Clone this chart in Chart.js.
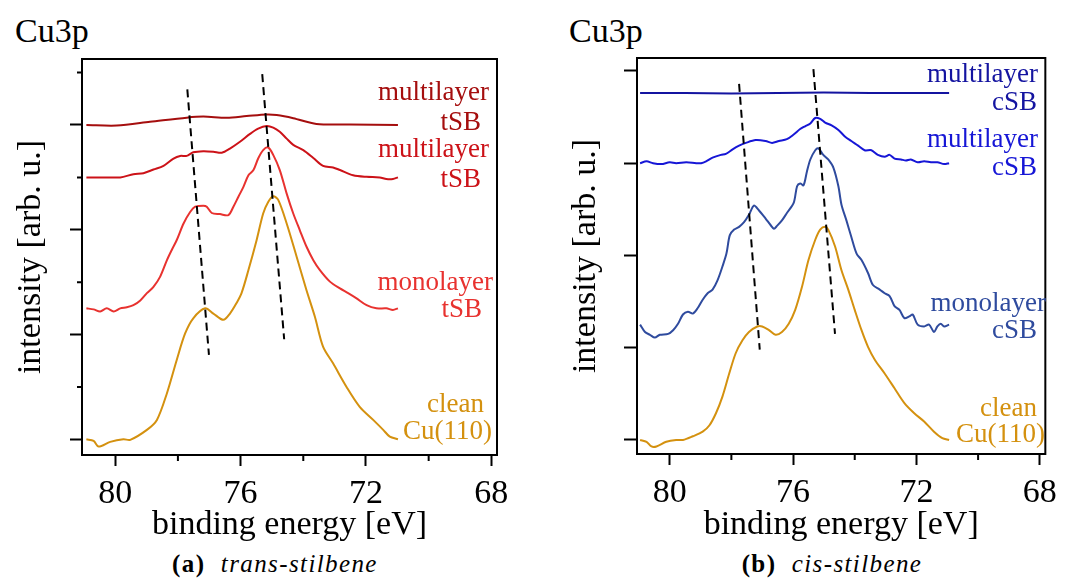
<!DOCTYPE html>
<html>
<head>
<meta charset="utf-8">
<script src="https://cdn.jsdelivr.net/npm/chart.js@4.4.1/dist/chart.umd.min.js"></script>
<style>
  body { margin: 0; background: #fff; width: 1065px; height: 584px; position: relative; overflow: hidden; }
  canvas { position: absolute; top: 0; }
  .head { position: absolute; top: 14px; font-size: 34px; line-height: 34px; color: #000; }
  .cap { position: absolute; top: 551px; width: 240px; text-align: center; font-size: 25px; line-height: 25px; letter-spacing: 1.4px; color: #000; }
  .head, .cap { font-family: "Liberation Serif", "Times New Roman", Tinos, "DejaVu Serif", serif; }
</style>
</head>
<body>
<div class="head" style="left:15px">Cu3p</div>
<div class="head" style="left:569px">Cu3p</div>
<canvas id="trans" width="530" height="545" style="left:0"></canvas>
<canvas id="cis" width="525" height="545" style="left:540px"></canvas>
<div class="cap" style="left:155px"><b>(a)</b>&nbsp; <i>trans-stilbene</i></div>
<div class="cap" style="left:712px"><b>(b)</b>&nbsp; <i>cis-stilbene</i></div>
<script>
// ---- trans-stilbene panel (binding energy in eV, intensity in arb. u.)
const cleanTE = [80.92,80.69,80.53,80.16,79.74,79.52,78.99,78.67,78.35,78.04,77.77,77.51,77.13,76.87,76.55,76.34,76.13,75.97,75.75,75.49,75.28,75.12,74.96,74.80,74.53,74.21,73.90,73.63,73.37,73.05,72.62,72.20,71.77,71.45,71.24,70.98];
const cleanTI = [0,-0.03,-0.14,-0.05,0,-0.01,0.18,0.37,0.88,1.51,2.02,2.31,2.50,2.40,2.28,2.40,2.60,2.79,3.23,3.80,4.31,4.53,4.64,4.57,4.12,3.48,2.85,2.34,1.77,1.45,1.00,0.62,0.37,0.18,0.05,0];
const monoTE = [80.92,80.69,80.48,80.27,80.05,79.84,79.63,79.42,79.20,78.99,78.78,78.57,78.35,78.20,78.04,77.82,77.61,77.45,77.19,77.08,76.92,76.66,76.39,76.23,76.07,75.91,75.75,75.59,75.44,75.28,75.12,74.96,74.75,74.53,74.32,74.11,73.90,73.68,73.47,73.15,72.83,72.57,72.30,71.98,71.67,71.35,71.14,70.98];
const monoTI = [2.50,2.48,2.44,2.50,2.44,2.50,2.52,2.56,2.65,2.79,2.91,3.10,3.42,3.61,3.80,4.12,4.34,4.44,4.46,4.44,4.32,4.30,4.28,4.44,4.63,4.82,5.04,5.14,5.36,5.52,5.57,5.43,5.14,4.69,4.31,3.99,3.68,3.42,3.23,3.01,2.88,2.79,2.69,2.56,2.50,2.50,2.47,2.50];
const multiTE = [80.92,80.48,79.84,79.42,79.10,78.78,78.46,78.14,77.93,77.72,77.51,77.19,76.87,76.60,76.34,76.02,75.70,75.44,75.17,74.96,74.75,74.53,74.32,74.00,73.68,73.37,73.05,72.83,72.41,71.98,71.56,71.35,71.14,70.98];
const multiTI = [5.00,5.00,5.00,5.06,5.08,5.15,5.22,5.36,5.41,5.41,5.48,5.50,5.49,5.47,5.55,5.68,5.83,5.93,5.98,5.95,5.87,5.74,5.62,5.52,5.37,5.22,5.19,5.14,5.04,5.01,5.00,4.97,4.97,5.00];
const multi2TE = [80.92,79.95,78.89,77.72,77.19,76.44,75.81,75.17,74.85,74.32,73.58,72.52,70.98];
const multi2TI = [6.00,5.99,6.06,6.14,6.16,6.14,6.17,6.20,6.19,6.13,6.02,6.01,6.00];
const guideT1E = [77.70,77.01], guideT1I = [6.68,1.61];
const guideT2E = [75.31,74.61], guideT2I = [6.97,1.91];

// ---- cis-stilbene panel
const cleanCE = [80.96,80.75,80.59,80.43,80.11,79.79,79.57,79.25,78.93,78.71,78.50,78.29,78.07,77.86,77.64,77.43,77.16,77.00,76.78,76.57,76.36,76.14,75.93,75.71,75.50,75.28,75.12,74.96,74.86,74.64,74.43,74.21,74.00,73.78,73.57,73.35,73.03,72.71,72.39,72.07,71.75,71.43,71.16,70.94];
const cleanCI = [0,-0.02,-0.07,-0.07,-0.02,0,0,0.04,0.09,0.16,0.29,0.47,0.72,0.94,1.08,1.17,1.23,1.23,1.19,1.14,1.17,1.26,1.41,1.66,1.95,2.17,2.28,2.31,2.28,2.10,1.84,1.63,1.41,1.19,1.01,0.87,0.72,0.56,0.40,0.29,0.20,0.09,0.02,0];
const monoCE = [80.96,80.80,80.64,80.48,80.32,80.05,79.89,79.73,79.57,79.41,79.25,79.09,78.93,78.77,78.61,78.45,78.29,78.16,78.05,77.91,77.75,77.59,77.43,77.27,77.11,76.89,76.73,76.62,76.52,76.36,76.20,75.98,75.87,75.77,75.66,75.55,75.44,75.28,75.18,75.02,74.86,74.69,74.53,74.43,74.27,74.11,73.94,73.78,73.57,73.41,73.19,73.03,72.87,72.71,72.55,72.39,72.23,72.12,71.96,71.75,71.59,71.43,71.32,71.21,71.10,70.94];
const monoCI = [1.25,1.17,1.14,1.11,1.14,1.15,1.19,1.26,1.36,1.39,1.37,1.43,1.52,1.59,1.63,1.73,1.88,2.02,2.22,2.28,2.31,2.36,2.44,2.54,2.49,2.40,2.33,2.29,2.32,2.38,2.46,2.57,2.75,2.78,2.76,2.91,3.04,3.14,3.16,3.09,3.04,2.95,2.75,2.55,2.38,2.20,2.02,1.95,1.81,1.68,1.63,1.59,1.56,1.45,1.41,1.32,1.34,1.36,1.25,1.23,1.25,1.17,1.23,1.26,1.23,1.25];
const multiCE = [80.96,80.75,80.54,80.27,80.00,79.79,79.46,79.14,78.98,78.82,78.61,78.34,78.18,77.96,77.75,77.53,77.21,76.89,76.68,76.46,76.20,75.98,75.77,75.61,75.44,75.28,75.12,74.96,74.75,74.53,74.32,74.11,73.89,73.68,73.46,73.25,73.03,72.87,72.71,72.50,72.34,72.18,71.96,71.75,71.53,71.32,71.10,70.94];
const multiCI = [3.00,3.02,3.00,2.99,3.01,3.00,3.01,3.00,3.00,3.02,3.06,3.09,3.10,3.15,3.19,3.22,3.25,3.24,3.22,3.24,3.26,3.31,3.37,3.40,3.43,3.49,3.48,3.44,3.41,3.36,3.29,3.24,3.19,3.14,3.14,3.09,3.07,3.09,3.05,3.04,3.03,3.04,3.01,3.02,3.01,3.01,2.99,3.00];
const multi2CE = [80.96,79.5,78,76.5,75,73.5,72,70.94];
const multi2CI = [3.76,3.76,3.755,3.76,3.765,3.76,3.76,3.76];
const guideC1E = [77.75,77.08], guideC1I = [3.86,0.98];
const guideC2E = [75.34,74.64], guideC2I = [4.02,1.15];

// axis ticks
const xMajor = [80, 76, 72, 68];
const xMinor = [78, 74, 70];
const yMajorT = [0, 2, 4, 6], yMinorT = [1, 3, 5, 7];
const yMajorC = [0, 1, 2, 3, 4];

const FONT = '"Liberation Serif", "Times New Roman", Tinos, "DejaVu Serif", serif';

const pts = (xs, ys) => xs.map((x, i) => ({ x: x, y: ys[i] }));

function curve(xs, ys, color) {
  return { data: pts(xs, ys), borderColor: color, borderWidth: 2, pointRadius: 0, tension: 0.3, fill: false };
}
function guide(xs, ys) {
  return { data: pts(xs, ys), borderColor: '#000', borderWidth: 2, borderDash: [8, 5], pointRadius: 0, fill: false };
}

// frame, minor ticks and curve names
const framePlugin = {
  id: 'frame',
  afterDraw(chart, args, opts) {
    const { ctx, chartArea: a, scales } = chart;
    ctx.save();
    ctx.strokeStyle = '#000';
    ctx.lineWidth = 2;
    ctx.strokeRect(a.left, a.top, a.right - a.left, a.bottom - a.top);
    ctx.beginPath();
    opts.xMinor.forEach(v => {
      const p = scales.x.getPixelForValue(v);
      ctx.moveTo(p, a.bottom); ctx.lineTo(p, a.bottom + 6);
    });
    opts.yMinor.forEach(v => {
      const p = scales.y.getPixelForValue(v);
      ctx.moveTo(a.left, p); ctx.lineTo(a.left - 5, p);
    });
    ctx.stroke();
    ctx.font = '27px ' + FONT;
    ctx.textAlign = 'right';
    ctx.textBaseline = 'alphabetic';
    opts.labels.forEach(l => {
      ctx.fillStyle = l.color;
      ctx.fillText(l.text, l.x, l.y);
    });
    ctx.restore();
  }
};

function options(cfg) {
  return {
    responsive: false,
    animation: false,
    devicePixelRatio: 1,
    layout: { padding: { top: cfg.top, right: cfg.right, left: 0, bottom: 0 } },
    plugins: {
      legend: { display: false },
      tooltip: { enabled: false },
      frame: { xMinor: xMinor, yMinor: cfg.yMinor, labels: cfg.labels }
    },
    scales: {
      x: {
        type: 'linear', reverse: true, min: 67.82, max: 81.06,
        afterBuildTicks: s => { s.ticks = xMajor.map(v => ({ value: v })); },
        afterFit: s => { s.height = cfg.xHeight; },
        border: { display: true, color: '#000', width: 2 },
        grid: { drawOnChartArea: false, drawTicks: true, tickLength: 11, tickWidth: 2, tickColor: '#000' },
        ticks: { color: '#000', font: { family: FONT, size: 34 }, padding: 8, maxRotation: 0 },
        title: { display: true, text: 'binding energy [eV]', color: '#000', font: { family: FONT, size: 34 }, padding: { top: 0, bottom: 0 } }
      },
      y: {
        type: 'linear', min: cfg.ymin, max: cfg.ymax,
        afterBuildTicks: s => { s.ticks = cfg.yMajor.map(v => ({ value: v })); },
        afterFit: s => { s.width = cfg.yWidth; },
        border: { display: true, color: '#000', width: 2 },
        grid: { drawOnChartArea: false, drawTicks: true, tickLength: cfg.yTick, tickWidth: 2, tickColor: '#000' },
        ticks: { display: false },
        title: { display: true, text: 'intensity [arb. u.]', color: '#000', font: { family: FONT, size: 34 }, padding: { top: cfg.titlePad, bottom: 0 } }
      }
    }
  };
}

new Chart(document.getElementById('trans'), {
  type: 'line',
  data: {
    datasets: [
      guide(guideT1E, guideT1I),
      guide(guideT2E, guideT2I),
      curve(multi2TE, multi2TI, '#A50E0E'),
      curve(multiTE, multiTI, '#CC1218'),
      curve(monoTE, monoTI, '#E8322F'),
      curve(cleanTE, cleanTI, '#D4910F')
    ]
  },
  options: options({
    top: 59, right: 33, xHeight: 90, yWidth: 82, titlePad: 11, yTick: 12,
    ymin: -0.30, ymax: 7.26, yMajor: yMajorT, yMinor: yMinorT,
    labels: [
      { text: 'multilayer', color: '#A50E0E', x: 489, y: 100 },
      { text: 'tSB', color: '#A50E0E', x: 481, y: 130 },
      { text: 'multilayer', color: '#CC1218', x: 489, y: 157 },
      { text: 'tSB', color: '#CC1218', x: 481, y: 187 },
      { text: 'monolayer', color: '#E8322F', x: 493, y: 290 },
      { text: 'tSB', color: '#E8322F', x: 482, y: 317 },
      { text: 'clean', color: '#D4910F', x: 484, y: 412 },
      { text: 'Cu(110)', color: '#D4910F', x: 492, y: 439 }
    ]
  }),
  plugins: [framePlugin]
});

new Chart(document.getElementById('cis'), {
  type: 'line',
  data: {
    datasets: [
      guide(guideC1E, guideC1I),
      guide(guideC2E, guideC2I),
      curve(multi2CE, multi2CI, '#1414A0'),
      curve(multiCE, multiCI, '#1616D6'),
      curve(monoCE, monoCI, '#2F4B9E'),
      curve(cleanCE, cleanCI, '#D4910F')
    ]
  },
  options: options({
    top: 58, right: 16, xHeight: 91, yWidth: 97, titlePad: 26, yTick: 13,
    ymin: -0.152, ymax: 4.14, yMajor: yMajorC, yMinor: [],
    labels: [
      { text: 'multilayer', color: '#1414A0', x: 498, y: 82 },
      { text: 'cSB', color: '#1414A0', x: 497, y: 110 },
      { text: 'multilayer', color: '#1616D6', x: 498, y: 147 },
      { text: 'cSB', color: '#1616D6', x: 497, y: 175 },
      { text: 'monolayer', color: '#2F4B9E', x: 506, y: 311 },
      { text: 'cSB', color: '#2F4B9E', x: 497, y: 338 },
      { text: 'clean', color: '#D4910F', x: 497, y: 416 },
      { text: 'Cu(110)', color: '#D4910F', x: 505, y: 442 }
    ]
  }),
  plugins: [framePlugin]
});
</script>
</body>
</html>
